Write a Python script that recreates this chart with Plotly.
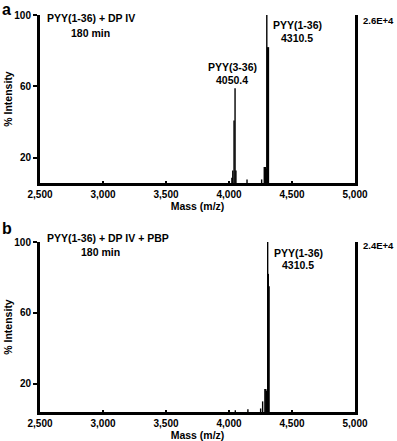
import plotly.graph_objects as go

W, H = 397, 441

# ---- data ----
mass_ticks = [2500, 3000, 3500, 4000, 4500, 5000]
mass_tick_labels = ["2,500", "3,000", "3,500", "4,000", "4,500", "5,000"]
intensity_ticks = [20, 60, 100]

# panel a: PYY(1-36) + DP IV, 180 min
mass_a = [3500, 4023, 4030, 4040, 4048, 4055, 4143, 4259, 4280, 4288, 4295, 4300, 4306, 4313]
int_a = [7, 9, 13, 41, 59, 13, 8, 8, 15, 15, 14, 100, 82, 82]

# panel b: PYY(1-36) + DP IV + PBP, 180 min
mass_b = [4050, 4150, 4251, 4267, 4285, 4292, 4299, 4307, 4312, 4318]
int_b = [5, 5.5, 6, 10, 17, 17, 16, 100, 82, 75]

base_a, base_b = 6, 4


def sticks(masses, intens, base):
    xs, ys = [], []
    for m, i in zip(masses, intens):
        xs += [m, m, None]
        ys += [base, i, None]
    return xs, ys


def px(x):
    return x / W


def py(y):
    return 1 - y / H


FONT = "Liberation Sans, Arial, sans-serif"

fig = go.Figure()
xa, ya = sticks(mass_a, int_a, base_a)
xb, yb = sticks(mass_b, int_b, base_b)
fig.add_trace(go.Scatter(x=xa, y=ya, mode="lines", line=dict(color="black", width=1.4),
                         xaxis="x", yaxis="y", showlegend=False, hoverinfo="skip"))
fig.add_trace(go.Scatter(x=xb, y=yb, mode="lines", line=dict(color="black", width=1.4),
                         xaxis="x2", yaxis="y2", showlegend=False, hoverinfo="skip"))

tickfont = dict(family=FONT, size=10, color="black", weight="bold")
titlefont = dict(family=FONT, size=10.5, color="black", weight="bold")


def xaxis_cfg(anchor):
    return dict(domain=[px(40), px(355)], range=[2500, 5000], anchor=anchor,
                automargin=False,
                showline=True, linewidth=3, linecolor="black", mirror=False,
                ticks="inside", ticklen=2, tickwidth=1.5, tickcolor="black",
                tickvals=mass_ticks, ticktext=mass_tick_labels, tickfont=tickfont,
                showgrid=False, zeroline=False,
                title=dict(text="Mass (m/z)", font=titlefont, standoff=0))


def yaxis_cfg(anchor, dom, base):
    return dict(domain=dom, range=[base, 100], anchor=anchor,
                automargin=False,
                showline=True, linewidth=3, linecolor="black", mirror=True,
                ticks="outside", ticklen=4, tickwidth=2, tickcolor="black",
                tickvals=intensity_ticks, tickfont=tickfont,
                showgrid=False, zeroline=False,
                title=dict(text="% Intensity", font=titlefont, standoff=0))


annotations = []


def ann(text, x, y, size=10.5, xanchor="center"):
    annotations.append(dict(text=text, x=px(x), y=py(y), xref="paper", yref="paper",
                            showarrow=False, xanchor=xanchor, yanchor="middle",
                            font=dict(family=FONT, size=size, color="black", weight="bold")))


# panel a annotations
ann("a", 0, 9, size=16, xanchor="left")
ann("PYY(1-36) + DP IV", 45, 18, xanchor="left")
ann("180 min", 90, 33)
ann("PYY(3-36)", 232, 67)
ann("4050.4", 232, 80)
ann("PYY(1-36)", 297, 25)
ann("4310.5", 297, 38)
ann("2.6E+4", 361, 20, size=9.5, xanchor="left")

# panel b annotations
ann("b", 0, 229, size=16, xanchor="left")
ann("PYY(1-36) + DP IV + PBP", 45, 238, xanchor="left")
ann("180 min", 100, 252)
ann("PYY(1-36)", 298, 253)
ann("4310.5", 298, 265)
ann("2.4E+4", 361, 245, size=9.5, xanchor="left")

fig.update_layout(
    width=W, height=H,
    margin=dict(l=0, r=0, t=0, b=0, autoexpand=False),
    paper_bgcolor="white", plot_bgcolor="white",
    xaxis=xaxis_cfg("y"),
    yaxis=yaxis_cfg("x", [py(183), py(15)], base_a),
    xaxis2=xaxis_cfg("y2"),
    yaxis2=yaxis_cfg("x2", [py(412), py(242)], base_b),
    annotations=annotations,
)

fig.write_html("out.html",
               config={"displayModeBar": False},
               post_script="document.body.style.margin='0';document.body.style.overflow='hidden';")
